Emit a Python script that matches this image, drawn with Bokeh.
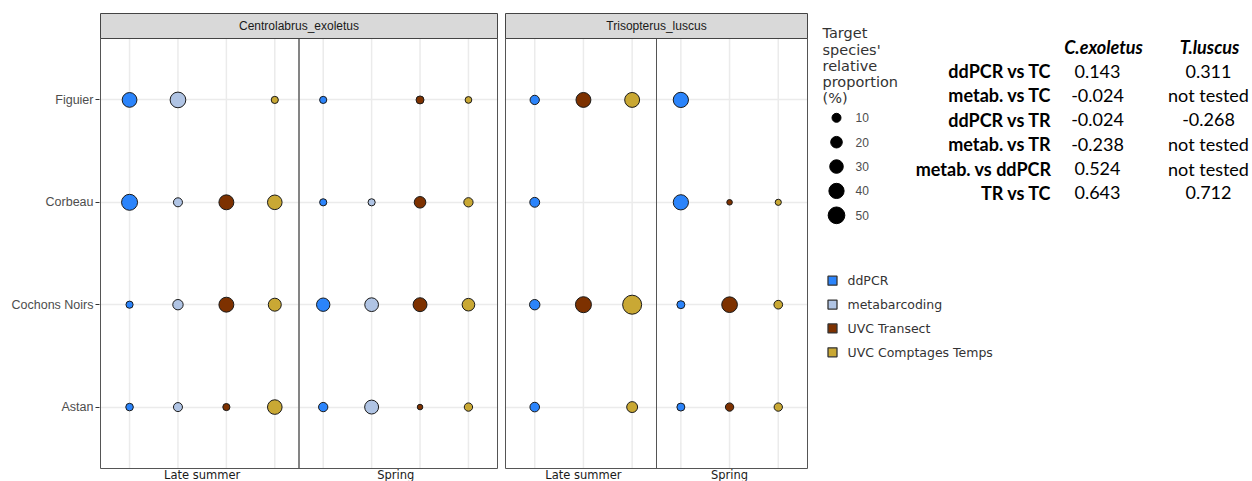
import math
from bokeh.plotting import figure
from bokeh.models import Range1d, FixedTicker, ColumnDataSource, Grid
from bokeh.layouts import row
from bokeh.embed import file_html
from bokeh.resources import INLINE
from bokeh.core.properties import value

# ---------------- data ----------------
sites = ["Astan", "Cochons Noirs", "Corbeau", "Figuier"]          # bottom -> top
seasons = ["Late summer", "Spring"]
methods = ["ddPCR", "metabarcoding", "UVC Transect", "UVC Comptages Temps"]
method_colors = ["#2B84FB", "#B0C4E4", "#7D3100", "#C9A834"]

species = ["Centrolabrus_exoletus", "Trisopterus_luscus"]
ce_methods = ["ddPCR", "metabarcoding", "UVC Transect", "UVC Comptages Temps"]
tl_methods = ["ddPCR", "UVC Transect", "UVC Comptages Temps"]

# relative proportion (%) per site (Astan, Cochons Noirs, Corbeau, Figuier); None = absent
ce_late_ddpcr = [6, 5, 45, 37]
ce_late_metab = [10, 15, 10, 43]
ce_late_uvct = [5, 38, 38, None]
ce_late_uvcct = [36, 27, 36, 5]
ce_spring_ddpcr = [11, 29, 5, 5]
ce_spring_metab = [32, 31, 5, None]
ce_spring_uvct = [2, 32, 20, 7]
ce_spring_uvcct = [8, 25, 11, 4]

tl_late_ddpcr = [12, 15, 13, 11]
tl_late_uvct = [None, 45, None, 38]
tl_late_uvcct = [17, 68, None, 38]
tl_spring_ddpcr = [7, 7, 40, 40]
tl_spring_uvct = [8, 43, 2, None]
tl_spring_uvcct = [8, 9, 3, None]

size_breaks = [10, 20, 30, 40, 50]
size_title = ["Target", "species'", "relative", "proportion", "(%)"]

table_header = ["C.exoletus", "T.luscus"]
table_rows = ["ddPCR vs TC", "metab. vs TC", "ddPCR vs TR", "metab. vs TR", "metab. vs ddPCR", "TR vs TC"]
table_cexo = ["0.143", "-0.024", "-0.024", "-0.238", "0.524", "0.643"]
table_tlus = ["0.311", "not tested", "-0.268", "not tested", "not tested", "0.712"]

ce_data = {
    "Late summer": [ce_late_ddpcr, ce_late_metab, ce_late_uvct, ce_late_uvcct],
    "Spring": [ce_spring_ddpcr, ce_spring_metab, ce_spring_uvct, ce_spring_uvcct],
}
tl_data = {
    "Late summer": [tl_late_ddpcr, tl_late_uvct, tl_late_uvcct],
    "Spring": [tl_spring_ddpcr, tl_spring_uvct, tl_spring_uvcct],
}

# ---------------- styling ----------------
H = 481
TOP = 12            # 1px above the strip top
PANEL_PX = 430      # height of the data panel
STRIP_PX = 25       # height of the facet strip
BELOW_PX = 13       # room for season labels under the panel
AXIS_FONT = value("Liberation Sans")
DV = value("DejaVu Sans")


def diam(v):
    # area-like size scale (visible diameter in px)
    return 3.77 + 1.97 * math.sqrt(v)


def make_panel(title, meths, data, panel_w, bl, br, show_y, sep_w, sep_c):
    k = len(meths)
    n = k * len(seasons)
    ny = len(sites)
    xlo, xhi = 0.4, n + 0.6
    ylo, yhi = 0.4, ny + 0.6
    upx = panel_w / (xhi - xlo)
    upy = PANEL_PX / (yhi - ylo)
    xr = Range1d(xlo - 1 / upx, xhi + 1 / upx)
    ytop = yhi + (STRIP_PX + 1) / upy
    yr = Range1d(ylo - BELOW_PX / upy, ytop)
    p = figure(width=bl + panel_w + 2 + br, height=H, x_range=xr, y_range=yr,
               output_backend="svg", toolbar_location=None,
               min_border_left=bl, min_border_right=br,
               min_border_top=TOP, min_border_bottom=0,
               x_axis_location=None,
               y_axis_location="left" if show_y else None)
    p.grid.visible = False
    p.background_fill_color = "white"
    p.border_fill_color = "white"
    p.outline_line_color = None

    # horizontal grid
    p.add_layout(Grid(dimension=1, ticker=FixedTicker(ticks=list(range(1, ny + 1))),
                      grid_line_color="#ebebeb", grid_line_width=1.5))
    # vertical grid limited to the panel
    gx = list(range(1, n + 1))
    p.segment(x0=gx, y0=[ylo] * n, x1=gx, y1=[yhi] * n,
              line_color="#ebebeb", line_width=1.5)

    if show_y:
        ax = p.yaxis[0]
        ax.ticker = FixedTicker(ticks=list(range(1, ny + 1)))
        ax.major_label_overrides = {i + 1: s for i, s in enumerate(sites)}
        ax.axis_line_color = None
        ax.major_tick_line_color = "#333333"
        ax.major_tick_out = 4
        ax.major_tick_in = 0
        ax.minor_tick_line_color = None
        ax.major_label_standoff = 2
        ax.major_label_text_font = "Liberation Sans"
        ax.major_label_text_font_size = "12.5px"
        ax.major_label_text_color = "#4d4d4d"

    # separator between seasons
    p.segment(x0=[k + 0.5], y0=[ylo], x1=[k + 0.5], y1=[yhi],
              line_color=sep_c, line_width=sep_w)

    xs, ys, cs, ss = [], [], [], []
    for si, season in enumerate(seasons):
        for mi, m in enumerate(meths):
            vals = data[season][mi]
            col = method_colors[methods.index(m)]
            for yi, v in enumerate(vals):
                if v is None:
                    continue
                xs.append(si * k + mi + 1)
                ys.append(yi + 1)
                cs.append(col)
                ss.append(diam(v) - 1)
    src = ColumnDataSource(dict(x=xs, y=ys, c=cs, s=ss))
    p.scatter("x", "y", size="s", fill_color="c", line_color="#1a1a1a",
              line_width=1, source=src)

    # panel border
    p.quad(left=[xlo], right=[xhi], bottom=[ylo], top=[yhi],
           fill_color=None, line_color="#555555", line_width=1)
    # facet strip
    stop = yhi + STRIP_PX / upy
    p.quad(left=[xlo], right=[xhi], bottom=[yhi], top=[stop],
           fill_color="#d9d9d9", line_color="#444444", line_width=1)
    p.text(x=[(n + 1) / 2], y=[(yhi + stop) / 2], text=[title],
           text_align="center", text_baseline="middle", text_font=AXIS_FONT,
           text_font_size="12px", text_color="#1a1a1a")

    # season labels under the panel
    centers = [si * k + (k + 1) / 2 for si in range(len(seasons))]
    p.text(x=centers, y=[ylo] * len(seasons), text=seasons, y_offset=6,
           text_align="center", text_baseline="alphabetic", text_font=DV,
           text_font_size="11.5px", text_color="#1a1a1a")
    return p


pA = make_panel(species[0], ce_methods, ce_data, 397, 99, 3, True, 1.8, "#777777")
pB = make_panel(species[1], tl_methods, tl_data, 302, 3, 0, False, 1.0, "#555555")

# ---------------- legends & table ----------------
WC = 1252 - 501 - 307
X0 = 808  # page x where this figure starts
pC = figure(width=WC, height=H, x_range=Range1d(X0, X0 + WC), y_range=Range1d(H, 0),
            output_backend="svg", toolbar_location=None, min_border=0,
            x_axis_location=None, y_axis_location=None)
pC.grid.visible = False
pC.outline_line_color = None
pC.background_fill_color = "white"
pC.border_fill_color = "white"

# size legend
pC.text(x=[822] * len(size_title), y=[21.5 + 16.5 * i for i in range(len(size_title))],
        text=size_title, text_baseline="middle", text_font=DV,
        text_font_size="14.5px", text_color="#333333")
ly = [108 + 25 * i for i in range(len(size_breaks))]
pC.scatter(x=[836] * len(size_breaks), y=ly, size=[diam(v) - 1 for v in size_breaks],
           fill_color="black", line_color="black", line_width=1)
pC.text(x=[855] * len(size_breaks), y=ly, text=[str(v) for v in size_breaks],
        text_baseline="middle", text_font=AXIS_FONT, text_font_size="12px",
        text_color="#4d4d4d")

# method legend
my = [275 + 24.5 * i for i in range(len(methods))]
pC.scatter(x=[832] * len(methods), y=my, marker="square", size=9,
           fill_color=method_colors, line_color="#333333", line_width=1.3)
pC.text(x=[847] * len(methods), y=my, text=methods, text_baseline="middle",
        text_font=DV, text_font_size="12.5px", text_color="#333333")

# correlation table
TF = value("Lato")
pC.text(x=[1103, 1209], y=[35, 35], text=table_header, text_align="center",
        text_baseline="middle", text_font=TF, text_font_style="bold italic",
        text_font_size="18px", text_color="black")
ry = [60 + 25 * i for i in range(len(table_rows))]
pC.text(x=[1051] * len(table_rows), y=ry, text=table_rows, text_align="right",
        text_baseline="middle", text_font=TF, text_font_style="bold",
        text_font_size="18px", text_color="black")
pC.text(x=[1097] * len(table_rows), y=ry, text=table_cexo, text_align="center",
        text_baseline="middle", text_font=TF, text_font_size="18px", text_color="black")
pC.text(x=[1208] * len(table_rows), y=ry, text=table_tlus, text_align="center",
        text_baseline="middle", text_font=TF, text_font_size="18px", text_color="black")

layout = row(pA, pB, pC, spacing=0)
open("out.html", "w").write(file_html(layout, INLINE))
